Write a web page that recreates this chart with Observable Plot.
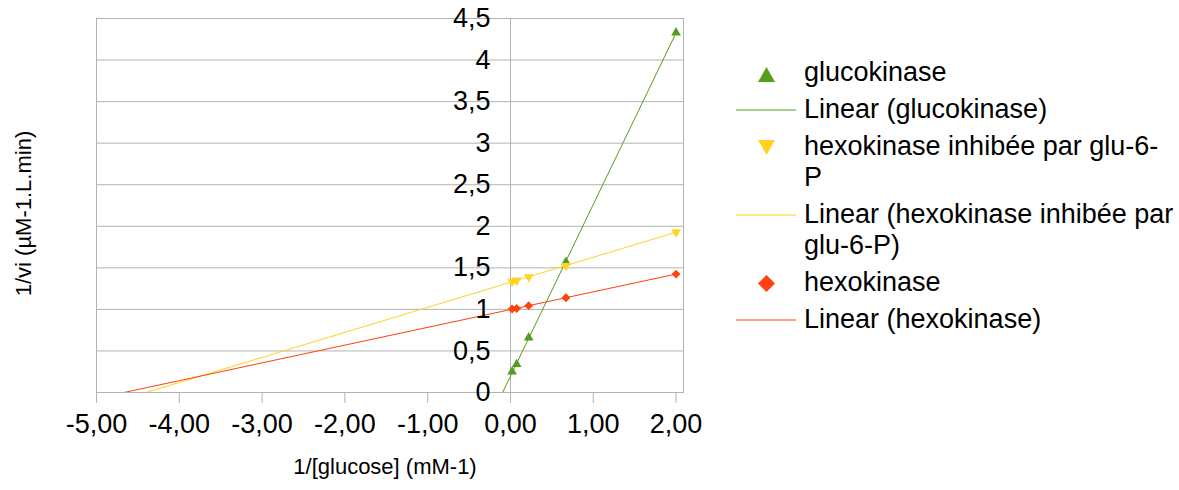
<!DOCTYPE html>
<html>
<head>
<meta charset="utf-8">
<script src="https://cdn.jsdelivr.net/npm/d3@7"></script>
<script src="https://cdn.jsdelivr.net/npm/@observablehq/plot@0.6"></script>
<style>
html,body{margin:0;padding:0;background:#fff;}
body{width:1179px;height:490px;position:relative;overflow:hidden;font-family:"Liberation Sans",Arial,sans-serif;}
#chart{position:absolute;left:0;top:0;}
#legend{position:absolute;left:736px;top:57px;font-size:27px;line-height:31px;color:#000;}
.item{display:flex;margin-bottom:6px;}
.sw{position:relative;width:68px;height:31px;flex:none;}
.sw svg{position:absolute;left:0;top:0;}
.txt{white-space:nowrap;}
.tri{position:absolute;left:22px;top:10px;width:17px;height:15px;clip-path:polygon(50% 0,100% 100%,0 100%);}
.tridown{position:absolute;left:22px;top:9px;width:17px;height:15px;clip-path:polygon(0 0,100% 0,50% 100%);}
.dia{position:absolute;left:22px;top:8px;width:17px;height:17px;clip-path:polygon(50% 0,100% 50%,50% 100%,0 50%);}
</style>
</head>
<body>
<div id="chart"></div>
<div id="legend"></div>
<script>
// ---- data ----
const xTicks = [-5, -4, -3, -2, -1, 0, 1, 2];
const yTicks = [0, 0.5, 1, 1.5, 2, 2.5, 3, 3.5, 4, 4.5];
const invGlucose = [0.02, 0.075, 0.22, 0.67, 2.0];            // 1/[glucose] (mM-1)
const glucokinase = [0.25, 0.34, 0.66, 1.57, 4.33];           // 1/vi
const hexokinaseInhibee = [1.335, 1.35, 1.39, 1.525, 1.93];   // 1/vi
const hexokinase = [1.005, 1.01, 1.045, 1.14, 1.425];         // 1/vi
const seriesNames = ["glucokinase", "hexokinase inhibée par glu-6-P", "hexokinase"];
const seriesColors = ["#579d1c", "#ffd320", "#ff420e"];
const legendLines = [
  ["glucokinase"],
  ["Linear (glucokinase)"],
  ["hexokinase inhibée par glu-6-", "P"],
  ["Linear (hexokinase inhibée par", "glu-6-P)"],
  ["hexokinase"],
  ["Linear (hexokinase)"]
];
const xTitle = "1/[glucose] (mM-1)";
const yTitle = "1/vi (µM-1.L.min)";

// ---- build ----
const seriesValues = [glucokinase, hexokinaseInhibee, hexokinase];
const points = seriesValues.map((ys, k) => invGlucose.map((x, i) => ({x, y: ys[i], s: seriesNames[k]})));

function trend(xs, ys) {
  const mx = d3.mean(xs), my = d3.mean(ys);
  const m = d3.sum(xs, (x, i) => (x - mx) * (ys[i] - my)) / d3.sum(xs, x => (x - mx) ** 2);
  const b = my - m * mx;
  return [d3.min(xTicks), d3.max(xs)].map(x => ({x, y: b + m * x}));
}
const trends = seriesValues.map(ys => trend(invGlucose, ys));

const fmtX = d => d.toFixed(2).replace(".", ",");
const fmtY = d => String(d).replace(".", ",");
const gray = "#b3b3b3";

const chart = Plot.plot({
  width: 720,
  height: 490,
  marginLeft: 96,
  marginRight: 37,
  marginTop: 18,
  marginBottom: 98,
  style: {fontFamily: "Liberation Sans, Arial, sans-serif", color: "black", background: "white", overflow: "visible"},
  x: {domain: [-5, 2.09], label: null},
  y: {domain: [0, 4.5], axis: null, label: null},
  marks: [
    Plot.gridY(yTicks, {stroke: gray, strokeOpacity: 1}),
    Plot.frame({stroke: gray}),
    Plot.ruleX([0], {stroke: gray}),
    ...trends.map((t, k) => Plot.line(t, {x: "x", y: "y", stroke: seriesColors[k], strokeWidth: 1, clip: true})),
    Plot.dot(points[0], {x: "x", y: "y", symbol: "triangle", r: 3.6, fill: seriesColors[0]}),
    Plot.dot(points[1], {x: "x", y: "y", symbol: "triangle", rotate: 180, r: 3.6, fill: seriesColors[1]}),
    Plot.dot(points[2], {x: "x", y: "y", symbol: "diamond2", r: 4, fill: seriesColors[2]}),
    Plot.axisX(xTicks, {tickSize: 11, tickPadding: 10, fontSize: 27, stroke: gray, tickFormat: fmtX, label: null}),
    Plot.text(yTicks, {x: () => 0, y: d => d, text: fmtY, textAnchor: "end", dx: -20, fontSize: 27, fill: "black"}),
    Plot.text([xTitle], {text: d => d, frameAnchor: "bottom", textAnchor: "middle", dy: 81, dx: -5, fontSize: 22, fill: "black"}),
    Plot.text([yTitle], {text: d => d, frameAnchor: "left", textAnchor: "middle", rotate: -90, dx: -73, dy: 8, fontSize: 22, fill: "black"})
  ]
});
document.getElementById("chart").appendChild(chart);

// ---- legend ----
const legend = document.getElementById("legend");
const swatchKinds = ["tri", "ln", "tridown", "ln", "dia", "ln"];
const svgNS = "http://www.w3.org/2000/svg";
legendLines.forEach((lines, i) => {
  const item = document.createElement("div");
  item.className = "item";
  const sw = document.createElement("div");
  sw.className = "sw";
  const c = seriesColors[Math.floor(i / 2)];
  if (swatchKinds[i] === "ln") {
    const s = document.createElementNS(svgNS, "svg");
    s.setAttribute("width", "60");
    s.setAttribute("height", "31");
    const l = document.createElementNS(svgNS, "line");
    l.setAttribute("x1", "0"); l.setAttribute("x2", "60");
    l.setAttribute("y1", "16"); l.setAttribute("y2", "16");
    l.setAttribute("stroke", c); l.setAttribute("stroke-width", "1.2");
    s.appendChild(l);
    sw.appendChild(s);
  } else {
    const mk = document.createElement("div");
    mk.className = swatchKinds[i];
    mk.style.background = c;
    sw.appendChild(mk);
  }
  const txt = document.createElement("div");
  txt.className = "txt";
  lines.forEach((l, j) => {
    if (j) txt.appendChild(document.createElement("br"));
    txt.appendChild(document.createTextNode(l));
  });
  item.appendChild(sw);
  item.appendChild(txt);
  legend.appendChild(item);
});
</script>
</body>
</html>
